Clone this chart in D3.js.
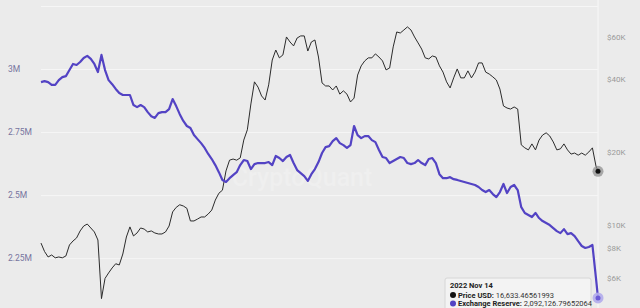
<!DOCTYPE html>
<html><head><meta charset="utf-8">
<script src="https://cdn.jsdelivr.net/npm/d3@7"></script>
<style>html,body{margin:0;padding:0;background:#ebebeb;overflow:hidden}svg{display:block}</style>
</head><body><svg id="c" width="640" height="308"></svg>
<script>
const startDate = "2019-11-14";
const endDate = "2022-11-14";
// weekly samples from startDate
const priceUSD = [8400,7750,7360,7500,7300,7360,7300,7430,8250,8570,
8820,9430,9880,10070,9700,9340,8650,4950,6000,6320,
6630,6900,6820,7570,8900,9800,8990,9250,9700,9600,
9340,9430,9250,9160,9160,9340,9880,11300,11800,12100,
11960,11700,10370,10370,10560,10770,10770,11080,11500,12650,
13500,13900,16700,18500,18700,18500,18900,22400,24700,31600,
39000,37100,34100,32800,37900,48000,52800,49000,50400,59800,
57000,54900,59200,60400,60400,52300,57000,58100,49400,38600,
37500,37500,36100,37500,34700,35800,34700,32200,33400,41600,
45400,47600,49000,49000,50900,49400,47600,43700,44500,54400,
62700,62100,63900,65800,63900,59800,56500,53300,49000,48500,
49900,49400,45400,42800,39000,36800,40500,44100,40500,40500,
43300,40500,42800,46700,46700,42800,42000,40900,39700,36400,
31000,30400,30100,30700,30100,21400,20800,20400,21600,20400,
22400,23500,24000,23300,22000,20400,20600,21600,20400,19600,
19800,19400,19800,19400,20000,20800,17500];
const reserveM = [2.948,2.952,2.948,2.937,2.937,2.956,2.968,2.972,2.996,3.020,
3.016,3.028,3.044,3.052,3.040,3.020,2.988,3.056,2.996,2.956,
2.940,2.921,2.905,2.897,2.897,2.897,2.857,2.849,2.857,2.849,
2.829,2.813,2.806,2.825,2.829,2.829,2.841,2.881,2.853,2.821,
2.794,2.774,2.766,2.738,2.722,2.706,2.687,2.663,2.643,2.619,
2.591,2.560,2.552,2.567,2.579,2.591,2.619,2.639,2.635,2.603,
2.623,2.627,2.627,2.627,2.631,2.619,2.655,2.647,2.635,2.651,
2.659,2.627,2.599,2.587,2.575,2.556,2.583,2.603,2.631,2.667,
2.690,2.694,2.714,2.726,2.706,2.698,2.687,2.698,2.774,2.738,
2.726,2.734,2.734,2.718,2.710,2.679,2.651,2.647,2.627,2.635,
2.643,2.651,2.647,2.627,2.623,2.627,2.639,2.627,2.619,2.643,
2.647,2.627,2.583,2.567,2.567,2.571,2.563,2.560,2.556,2.552,
2.548,2.544,2.540,2.532,2.520,2.512,2.520,2.504,2.492,2.512,
2.544,2.508,2.532,2.540,2.520,2.452,2.429,2.421,2.413,2.429,
2.409,2.397,2.389,2.381,2.369,2.357,2.349,2.365,2.345,2.349,
2.337,2.317,2.298,2.290,2.294,2.302,2.171];
const lastPrice = 16633.46561993;
const lastReserve = 2092126.79652064;
const leftTicks = [2.25, 2.5, 2.75, 3, 3.25];
const leftTickLabels = ["2.25M", "2.5M", "2.75M", "3M", ""];
const rightTicks = [6000, 8000, 10000, 20000, 40000, 60000];
const rightTickLabels = ["$6K", "$8K", "$10K", "$20K", "$40K", "$60K"];
const seriesNames = ["Price USD", "Exchange Reserve"];

const parse = d3.timeParse("%Y-%m-%d");
const t0 = parse(startDate), t1 = parse(endDate);
const dates = priceUSD.map((_, i) => d3.timeDay.offset(t0, 7 * i)).concat([t1]);
const priceData = priceUSD.concat([lastPrice]).map((v, i) => ({d: dates[i], v}));
const resData = reserveM.concat([lastReserve / 1e6]).map((v, i) => ({d: dates[i], v}));

const L = 41, R = 598, T = 6, B = 306;
const svg = d3.select("#c");
const x = d3.scaleTime().domain([t0, t1]).range([L, R]);
const yL = d3.scaleLinear().domain([2.06, 3.25]).range([B, T]);
const yR = d3.scaleLog().domain([4614, 80300]).range([B, T]);

svg.append("rect").attr("width", 640).attr("height", 308).attr("fill", "#ebebeb");

// grid
const grid = svg.append("g").attr("transform", `translate(${L},0)`)
  .call(d3.axisLeft(yL).tickValues(leftTicks).tickSize(-(R - L)).tickFormat(""));
grid.select(".domain").remove();
grid.selectAll("line").attr("stroke", "#f6f6f6").attr("stroke-width", 1);

// right vertical crosshair line
svg.append("line").attr("x1", x(t1)).attr("x2", x(t1)).attr("y1", 0).attr("y2", 308)
  .attr("stroke", "#f6f6f6").attr("stroke-width", 1.2);

// watermark
svg.append("text").attr("x", 302).attr("y", 186).attr("text-anchor", "middle")
  .attr("font-family", "Roboto, sans-serif").attr("font-size", 25).attr("font-weight", 500)
  .attr("fill", "#efefef").text("CryptoQuant");

// left axis labels
const la = svg.append("g").attr("transform", "translate(8,0)")
  .call(d3.axisRight(yL).tickValues(leftTicks).tickSize(0).tickPadding(0)
    .tickFormat((d, i) => leftTickLabels[i]));
la.select(".domain").remove();
la.selectAll("text").attr("font-family", "Roboto, sans-serif").attr("font-size", 8.5)
  .attr("fill", "#77749f");

// right axis labels
const ra = svg.append("g").attr("transform", "translate(607,0)")
  .call(d3.axisRight(yR).tickValues(rightTicks).tickSize(0).tickPadding(0)
    .tickFormat((d, i) => rightTickLabels[i]));
ra.select(".domain").remove();
ra.selectAll("text").attr("font-family", "Roboto, sans-serif").attr("font-size", 8)
  .attr("fill", "#9a9a9a");

// lines
svg.append("path").datum(priceData)
  .attr("d", d3.line().x(d => x(d.d)).y(d => yR(d.v)))
  .attr("fill", "none").attr("stroke", "#2b2b2b").attr("stroke-width", 1).attr("stroke-linejoin", "round");
svg.append("path").datum(resData)
  .attr("d", d3.line().x(d => x(d.d)).y(d => yL(d.v)))
  .attr("fill", "none").attr("stroke", "#5343c4").attr("stroke-width", 2.2).attr("stroke-linejoin", "round");

// end markers
const lp = priceData[priceData.length - 1], lr = resData[resData.length - 1];
svg.append("circle").attr("cx", x(lp.d)).attr("cy", yR(lp.v)).attr("r", 5.5).attr("fill", "#8a8a8a").attr("opacity", 0.7);
svg.append("circle").attr("cx", x(lp.d)).attr("cy", yR(lp.v)).attr("r", 2.5).attr("fill", "#111");
svg.append("circle").attr("cx", x(lr.d)).attr("cy", yL(lr.v)).attr("r", 5.5).attr("fill", "#b3acec").attr("opacity", 0.9);
svg.append("circle").attr("cx", x(lr.d)).attr("cy", yL(lr.v)).attr("r", 2.5).attr("fill", "#6b5ad6");

// tooltip
const tt = svg.append("g").attr("transform", "translate(445,278)");
tt.append("rect").attr("width", 146).attr("height", 40).attr("rx", 2)
  .attr("fill", "#f3f3f3").attr("stroke", "#d6d6d6");
const fmt = d3.format(",.8f");
tt.append("text").attr("x", 5).attr("y", 10).attr("font-family", "Roboto, sans-serif")
  .attr("font-size", 7.5).attr("font-weight", 700).attr("fill", "#222")
  .text(d3.timeFormat("%Y %b %d")(t1));
const rows = [
  {name: seriesNames[0], val: fmt(lastPrice), col: "#111", y: 19.5},
  {name: seriesNames[1], val: fmt(lastReserve), col: "#5343c4", y: 28}
];
rows.forEach(r => {
  tt.append("circle").attr("cx", 8).attr("cy", r.y - 2.5).attr("r", 3).attr("fill", r.col);
  const t = tt.append("text").attr("x", 13).attr("y", r.y).attr("font-family", "Roboto, sans-serif")
    .attr("font-size", 7.5).attr("fill", "#333");
  t.append("tspan").attr("font-weight", 700).attr("fill", "#222").text(r.name + ":");
  t.append("tspan").text(" " + r.val);
});
</script></body></html>
